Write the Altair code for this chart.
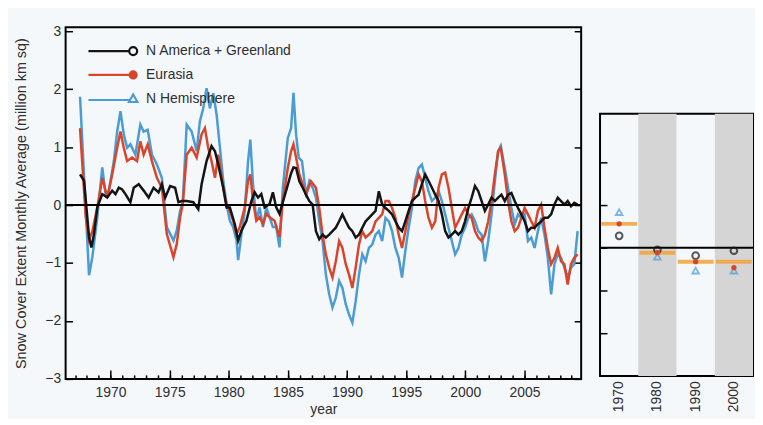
import altair as alt
import pandas as pd

# ---------------- data ----------------
series_names = ["N America + Greenland", "Eurasia", "N Hemisphere"]
series_colors = ["#141414", "#d8452a", "#4b9bd5"]

nh_years = [1967.42, 1968.18, 1968.46, 1968.88, 1969.30, 1969.58, 1969.86, 1970.28, 1970.56, 1970.84,
            1971.12, 1971.40, 1971.68, 1972.10, 1972.52, 1972.80, 1973.14, 1973.50, 1973.92, 1974.34,
            1974.76, 1975.32, 1975.60, 1975.88, 1976.11, 1976.44, 1976.86, 1977.28, 1977.56, 1977.84,
            1978.12, 1978.40, 1978.69, 1978.97, 1979.25, 1979.53, 1979.81, 1980.09, 1980.37, 1980.65,
            1980.79, 1981.07, 1981.35, 1981.63, 1981.82, 1982.05, 1982.33, 1982.61, 1982.89, 1983.17,
            1983.45, 1983.73, 1984.01, 1984.29, 1984.57, 1984.99, 1985.27, 1985.47, 1985.69, 1985.91,
            1986.19, 1986.53, 1986.81, 1987.09, 1987.37, 1987.65, 1987.93, 1988.21, 1988.49, 1988.77,
            1989.05, 1989.33, 1989.61, 1989.89, 1990.17, 1990.45, 1990.73, 1991.01, 1991.29, 1991.57,
            1991.85, 1992.13, 1992.41, 1992.69, 1992.97, 1993.25, 1993.53, 1993.81, 1994.09, 1994.37,
            1994.65, 1994.93, 1995.21, 1995.49, 1995.77, 1996.05, 1996.33, 1996.61, 1996.89, 1997.18,
            1997.46, 1997.74, 1998.02, 1998.30, 1998.58, 1998.86, 1999.14, 1999.42, 1999.70, 1999.98,
            2000.26, 2000.54, 2000.82, 2001.10, 2001.38, 2001.66, 2001.94, 2002.22, 2002.50, 2002.78,
            2003.00, 2003.34, 2003.62, 2003.90, 2004.18, 2004.46, 2004.74, 2005.02, 2005.30, 2005.58,
            2005.86, 2006.14, 2006.42, 2006.70, 2006.98, 2007.26, 2007.54, 2007.82, 2008.10, 2008.38,
            2008.66, 2008.94, 2009.22, 2009.50]
nh_values = [1.87, -1.21, -0.90, -0.21, 0.65, 0.19, 0.25, 0.76, 1.27, 1.62,
             1.22, 0.99, 1.05, 0.87, 1.39, 1.27, 1.30, 0.87, 0.70, 0.47,
             -0.38, -0.61, -0.44, -0.10, 0.05, 1.39, 1.27, 0.93, 1.45, 1.67,
             2.02, 1.67, 1.93, 1.56, 0.99, 0.42, 0.02, -0.27, -0.38, -0.61,
             -0.95, -0.50, -0.10, 0.76, 1.13, 0.36, -0.27, -0.04, -0.38, -0.04,
             -0.21, -0.38, -0.38, -0.73, 0.30, 1.16, 1.33, 1.94, 1.22, 0.82,
             0.76, 0.18, 0.41, 0.30, 0.13, -0.28, -0.62, -1.20, -1.54, -1.77,
             -1.60, -1.31, -1.43, -1.71, -1.89, -2.03, -1.66, -1.20, -0.85, -0.97,
             -0.74, -0.68, -0.51, -0.45, -0.62, -0.22, -0.28, -0.45, -0.74, -0.91,
             -1.25, -0.79, -0.39, -0.05, 0.41, 0.64, 0.70, 0.47, 0.24, 0.07,
             0.13, 0.24, 0.07, -0.16, -0.39, -0.62, -0.85, -0.74, -0.51, -0.39,
             -0.22, -0.16, -0.28, -0.45, -0.51, -0.97, -0.62, -0.16, 0.41, 0.93,
             1.02, 0.64, 0.30, -0.05, -0.33, -0.16, -0.22, -0.16, -0.62, -0.56,
             -0.74, -0.45, -0.22, -0.51, -0.91, -1.54, -1.02, -0.85, -0.91, -1.08,
             -1.25, -1.08, -1.02, -0.45]

eu_years = [1967.42, 1967.90, 1968.18, 1968.46, 1968.88, 1969.30, 1969.72, 1970.14, 1970.56, 1970.84,
            1971.12, 1971.40, 1971.82, 1972.24, 1972.52, 1972.80, 1973.14, 1973.50, 1973.92, 1974.34,
            1974.76, 1975.32, 1975.60, 1975.88, 1976.11, 1976.44, 1976.86, 1977.28, 1977.70, 1977.98,
            1978.26, 1978.54, 1978.83, 1979.11, 1979.53, 1979.81, 1980.09, 1980.37, 1980.65, 1980.93,
            1981.35, 1981.63, 1981.82, 1982.05, 1982.33, 1982.61, 1982.89, 1983.17, 1983.45, 1983.87,
            1984.29, 1984.57, 1984.99, 1985.27, 1985.47, 1985.69, 1985.97, 1986.25, 1986.53, 1986.95,
            1987.37, 1987.65, 1987.93, 1988.21, 1988.49, 1988.77, 1989.05, 1989.33, 1989.61, 1989.89,
            1990.17, 1990.45, 1990.73, 1991.01, 1991.29, 1991.57, 1991.85, 1992.13, 1992.41, 1992.69,
            1992.97, 1993.25, 1993.53, 1993.81, 1994.09, 1994.37, 1994.65, 1994.93, 1995.21, 1995.49,
            1995.77, 1996.05, 1996.33, 1996.61, 1996.89, 1997.18, 1997.46, 1997.74, 1998.02, 1998.30,
            1998.58, 1998.86, 1999.14, 1999.42, 1999.70, 1999.98, 2000.26, 2000.54, 2000.82, 2001.10,
            2001.38, 2001.66, 2001.94, 2002.22, 2002.50, 2002.78, 2003.00, 2003.34, 2003.62, 2003.90,
            2004.18, 2004.46, 2004.74, 2005.02, 2005.30, 2005.58, 2005.86, 2006.14, 2006.42, 2006.70,
            2006.98, 2007.26, 2007.54, 2007.82, 2008.10, 2008.38, 2008.66, 2008.94, 2009.22, 2009.50]
eu_values = [1.33, -0.20, -0.60, -0.45, -0.04, 0.47, 0.13, 0.53, 0.99, 1.27,
             0.99, 0.76, 0.82, 0.76, 1.10, 0.87, 1.05, 0.76, 0.47, 0.30,
             -0.50, -0.90, -0.67, -0.21, 0.02, 0.87, 0.99, 0.82, 1.22, 1.33,
             0.99, 0.76, 0.47, 0.87, 0.30, 0.02, -0.10, -0.27, -0.50, -0.38,
             -0.04, 0.42, 0.53, 0.07, -0.27, -0.21, -0.33, -0.15, -0.21, -0.27,
             -0.55, 0.07, 0.64, 0.93, 1.05, 0.82, 0.53, 0.36, 0.18, 0.41,
             0.30, -0.05, -0.51, -0.85, -1.08, -1.25, -0.97, -0.62, -0.74, -1.02,
             -1.20, -1.43, -1.08, -0.68, -0.45, -0.56, -0.51, -0.45, -0.28, -0.22,
             -0.16, 0.07, 0.07, -0.05, -0.22, -0.51, -0.74, -0.45, -0.16, 0.07,
             0.30, 0.53, 0.41, 0.07, -0.22, -0.39, -0.28, 0.30, 0.53, 0.56,
             0.30, -0.05, -0.39, -0.28, -0.16, -0.05, -0.16, -0.22, -0.45, -0.56,
             -0.62, -0.51, -0.28, 0.07, 0.53, 0.93, 0.99, 0.53, 0.07, -0.28,
             -0.45, -0.39, -0.22, -0.05, -0.16, -0.28, -0.39, -0.10, 0.01, -0.39,
             -0.74, -1.02, -0.91, -0.74, -0.97, -1.02, -1.37, -1.02, -0.91, -0.85]

na_years = [1967.42, 1967.76, 1968.18, 1968.38, 1968.60, 1968.88, 1969.30, 1969.72, 1970.14, 1970.42,
            1970.70, 1970.98, 1971.26, 1971.68, 1971.96, 1972.38, 1972.80, 1973.22, 1973.64, 1974.06,
            1974.34, 1974.62, 1975.04, 1975.46, 1975.74, 1976.02, 1976.44, 1977.00, 1977.42, 1977.70,
            1978.12, 1978.54, 1978.83, 1979.11, 1979.53, 1979.81, 1980.09, 1980.51, 1980.79, 1981.07,
            1981.49, 1981.91, 1982.19, 1982.47, 1982.75, 1983.03, 1983.45, 1983.73, 1984.01, 1984.29,
            1984.57, 1984.99, 1985.27, 1985.47, 1985.69, 1985.97, 1986.25, 1986.53, 1986.81, 1987.09,
            1987.37, 1987.65, 1987.93, 1988.21, 1988.49, 1988.77, 1989.05, 1989.33, 1989.61, 1989.89,
            1990.17, 1990.45, 1990.73, 1991.01, 1991.29, 1991.57, 1991.85, 1992.13, 1992.41, 1992.69,
            1992.97, 1993.25, 1993.53, 1993.81, 1994.09, 1994.37, 1994.65, 1994.93, 1995.21, 1995.49,
            1995.77, 1996.05, 1996.33, 1996.61, 1996.89, 1997.18, 1997.46, 1997.74, 1998.02, 1998.30,
            1998.58, 1998.86, 1999.14, 1999.42, 1999.70, 1999.98, 2000.26, 2000.54, 2000.82, 2001.10,
            2001.38, 2001.66, 2001.94, 2002.22, 2002.50, 2002.78, 2003.06, 2003.34, 2003.62, 2003.90,
            2004.18, 2004.46, 2004.74, 2005.02, 2005.30, 2005.58, 2005.86, 2006.14, 2006.42, 2006.70,
            2006.98, 2007.26, 2007.54, 2007.82, 2008.10, 2008.38, 2008.66, 2008.94, 2009.22, 2009.50]
na_values = [0.53, 0.42, -0.55, -0.73, -0.50, -0.04, 0.19, 0.13, 0.25, 0.19,
             0.30, 0.27, 0.19, 0.05, 0.30, 0.36, 0.25, 0.13, 0.30, 0.22,
             0.36, 0.13, 0.33, 0.30, 0.05, 0.07, 0.07, 0.05, -0.07, 0.36,
             0.76, 1.02, 0.93, 0.70, 0.30, -0.04, -0.04, -0.33, -0.61, -0.44,
             -0.27, 0.07, 0.22, 0.13, 0.19, -0.04, 0.02, 0.22, -0.04, -0.15,
             0.05, 0.35, 0.55, 0.65, 0.64, 0.41, 0.30, 0.18, 0.07, 0.01,
             -0.45, -0.59, -0.51, -0.56, -0.51, -0.45, -0.39, -0.28, -0.16, -0.28,
             -0.39, -0.45, -0.56, -0.51, -0.39, -0.28, -0.22, -0.16, -0.10, 0.24,
             0.01, -0.05, -0.10, -0.16, -0.28, -0.39, -0.45, -0.28, -0.10, 0.07,
             0.13, 0.18, 0.36, 0.53, 0.42, 0.30, 0.18, 0.07, -0.16, -0.45,
             -0.56, -0.51, -0.45, -0.51, -0.45, -0.28, -0.05, 0.13, 0.33, 0.24,
             0.07, -0.10, 0.01, 0.13, 0.07, 0.13, 0.18, 0.07, 0.18, 0.21,
             0.07, -0.05, -0.16, -0.28, -0.45, -0.39, -0.39, -0.33, -0.28, -0.22,
             -0.22, -0.16, 0.01, 0.13, 0.07, 0.01, 0.07, -0.02, 0.04, 0.01]

# decadal means (right panel)
decades = ["1970", "1980", "1990", "2000"]
shaded_decades = ["1980", "2000"]
dec_na = [0.056, -0.009, -0.037, -0.014]
dec_eu = [0.112, -0.023, -0.065, -0.093]
dec_nh = [0.167, -0.042, -0.107, -0.107]
dec_mean = [0.112, -0.023, -0.065, -0.065]

zero_line = [0]
y_ticks = [-3, -2, -1, 0, 1, 2, 3]
x_label_ticks = [1970, 1975, 1980, 1985, 1990, 1995, 2000, 2005]
x_minor_ticks = list(range(1967, 2010))
panel_ticks = [-0.4, -0.2, 0, 0.2, 0.4]

# ---------------- styles ----------------
FONT = "Liberation Sans"
TXT = "#2e2e2e"
legend_shapes = [
    "M-9,0L-0.8,0M-0.8,0A0.8,0.8,0,1,1,0.8,0A0.8,0.8,0,1,1,-0.8,0Z",
    "M-9,0L-0.7,0M-0.7,0A0.7,0.7,0,1,1,0.7,0A0.7,0.7,0,1,1,-0.7,0Z",
    "M-9,0.25L-0.75,0.25M0,-0.85L0.85,0.65L-0.85,0.65Z",
]
legend_fills = ["transparent", series_colors[1], "transparent"]

xs = alt.Scale(domain=[1966.2, 2009.8], nice=False, zero=False)
ys = alt.Scale(domain=[-3, 3.07], nice=False, zero=False)

ax_x_labels = alt.Axis(orient="bottom", values=x_label_ticks, format="d", ticks=False, domain=False,
                       grid=False, labelPadding=7, labelFontSize=14, title="year",
                       titleFontSize=14, titleFontWeight="normal", titlePadding=3)
ax_x_major = alt.Axis(orient="bottom", values=x_label_ticks, labels=False, domain=False, grid=False,
                      tickSize=9, offset=-9, tickWidth=1.5, title=None)
ax_x_minor = alt.Axis(orient="bottom", values=x_minor_ticks, labels=False, domain=False, grid=False,
                      tickSize=4, offset=-4, tickWidth=1.5, title=None)
ax_y_labels = alt.Axis(orient="left", values=y_ticks, ticks=False, domain=False, grid=False,
                       labelPadding=5, labelFontSize=14,
                       title="Snow Cover Extent Monthly Average (million km sq)",
                       titleFontSize=14.5, titleFontWeight="normal", titlePadding=16)
ax_y_left = alt.Axis(orient="left", values=y_ticks, labels=False, domain=False, grid=False,
                     tickSize=7, offset=-7, tickWidth=1.5, title=None)
ax_y_right = alt.Axis(orient="right", values=y_ticks, labels=False, domain=False, grid=False,
                      tickSize=7, offset=-7, tickWidth=1.5, title=None)


def series_line(years, values, color, xaxis, yaxis):
    df = pd.DataFrame({"year": years, "value": values})
    return alt.Chart(df).mark_line(color=color, strokeWidth=2.5).encode(
        x=alt.X("year:Q", scale=xs, axis=xaxis),
        y=alt.Y("value:Q", scale=ys, axis=yaxis),
    )


nh_line = series_line(nh_years, nh_values, series_colors[2], ax_x_labels, ax_y_labels)
eu_line = series_line(eu_years, eu_values, series_colors[1], ax_x_major, ax_y_left)
na_line = series_line(na_years, na_values, series_colors[0], ax_x_minor, ax_y_right)

zero_rule = alt.Chart(pd.DataFrame({"v": zero_line})).mark_rule(color="black", strokeWidth=2).encode(
    y=alt.Y("v:Q", scale=ys, axis=None)
)

leg = alt.Legend(title=None, orient="none", legendX=61, legendY=17, symbolSize=100,
                 symbolStrokeWidth=2.2, labelFontSize=14, labelColor=TXT, labelFont=FONT,
                 labelOffset=6, rowPadding=7, padding=0, symbolOpacity=1)

legend_layer = alt.Chart(pd.DataFrame({"series": series_names})).transform_filter(
    alt.datum.series == "none"
).mark_point(filled=False).encode(
    color=alt.Color("series:N", scale=alt.Scale(domain=series_names, range=series_colors), legend=leg),
    shape=alt.Shape("series:N", scale=alt.Scale(domain=series_names, range=legend_shapes), legend=leg),
    fill=alt.Fill("series:N", scale=alt.Scale(domain=series_names, range=legend_fills), legend=leg),
)

left = alt.layer(nh_line, eu_line, na_line, zero_rule, legend_layer).resolve_axis(
    x="independent", y="independent"
).properties(width=519, height=354)

# ---------------- right panel ----------------
dec_df = pd.DataFrame({"decade": decades, "na": dec_na, "eu": dec_eu, "nh": dec_nh, "mean": dec_mean})
xd = alt.Scale(domain=decades, paddingInner=0, paddingOuter=0)
yd = alt.Scale(domain=[-0.6, 0.628], nice=False, zero=False)

ax_dec = alt.Axis(orient="bottom", labelAngle=270, ticks=False, domain=False, grid=False,
                  labelPadding=5, labelFontSize=14, title=None)
ax_p_left = alt.Axis(orient="left", values=panel_ticks, labels=False, domain=False, grid=False,
                     tickSize=7, offset=-7, tickWidth=1.5, title=None)
ax_p_right = alt.Axis(orient="right", values=panel_ticks, labels=False, domain=False, grid=False,
                      tickSize=7, offset=-7, tickWidth=1.5, title=None)

bands = alt.Chart(pd.DataFrame({"decade": shaded_decades})).mark_rect(color="#d5d5d5").encode(
    x=alt.X("decade:N", scale=xd, axis=ax_dec)
)
p_zero = alt.Chart(pd.DataFrame({"v": zero_line})).mark_rule(color="black", strokeWidth=2).encode(
    y=alt.Y("v:Q", scale=yd, axis=ax_p_left)
)
p_mean = alt.Chart(dec_df).mark_tick(color="#f2a23a", thickness=4, size=36, opacity=0.85).encode(
    x=alt.X("decade:N", scale=xd, axis=None),
    y=alt.Y("mean:Q", scale=yd, axis=ax_p_right),
)
p_na = alt.Chart(dec_df).mark_point(shape="circle", filled=False, color=series_colors[0], size=45,
                                    strokeWidth=2).encode(
    x=alt.X("decade:N", scale=xd, axis=None), y=alt.Y("na:Q", scale=yd, axis=None))
p_nh = alt.Chart(dec_df).mark_point(shape="triangle-up", filled=False, color=series_colors[2], size=45,
                                    strokeWidth=1.8).encode(
    x=alt.X("decade:N", scale=xd, axis=None), y=alt.Y("nh:Q", scale=yd, axis=None))
p_eu = alt.Chart(dec_df).mark_point(shape="circle", filled=True, color=series_colors[1], size=28,
                                    opacity=1).encode(
    x=alt.X("decade:N", scale=xd, axis=None), y=alt.Y("eu:Q", scale=yd, axis=None))

right = alt.layer(bands, p_zero, p_mean, p_na, p_nh, p_eu).resolve_axis(
    x="independent", y="independent"
).properties(width=154, height=264)

spacer = alt.Chart(pd.DataFrame({"s": [0]})).mark_point(opacity=0).properties(
    width=154, height=85, view=alt.ViewBackground(stroke="transparent")
)

right_col = alt.vconcat(spacer, right, spacing=0)

chart = alt.hconcat(left, right_col, spacing=14).resolve_scale(
    color="independent", shape="independent", fill="independent"
).properties(
    background="#f5f8fb",
    padding={"left": 5, "top": 14, "right": 0, "bottom": 0},
).configure_view(
    stroke="black", strokeWidth=2
).configure_axis(
    labelColor=TXT, titleColor=TXT, labelFont=FONT, titleFont=FONT, tickColor="black"
)

chart.save("out.html", embed_options={"renderer": "svg", "actions": False})
